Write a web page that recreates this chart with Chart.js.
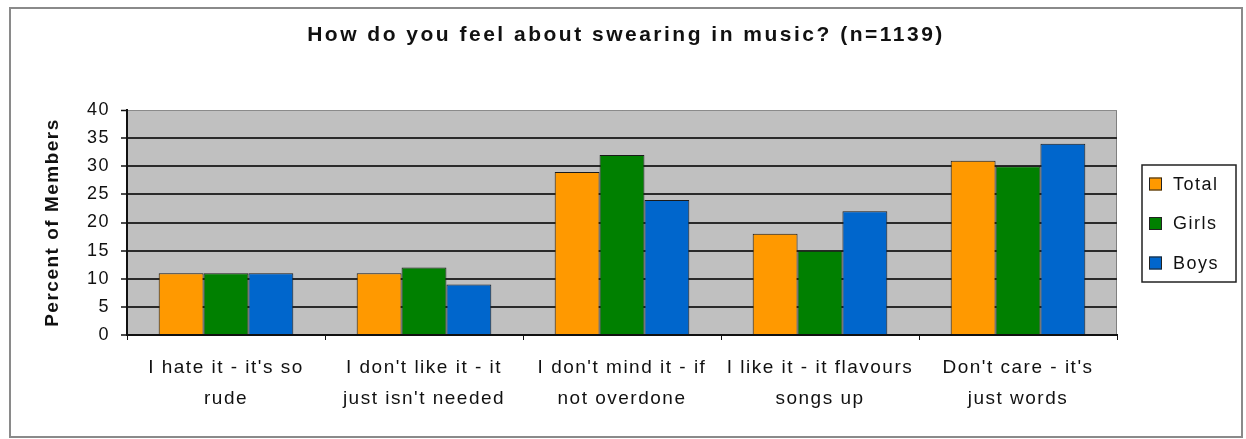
<!DOCTYPE html>
<html>
<head>
<meta charset="utf-8">
<script src="https://cdn.jsdelivr.net/npm/chart.js@4.4.0/dist/chart.umd.min.js"></script>
<style>
  html, body { margin: 0; padding: 0; background: #fff; }
  canvas { display: block; }
</style>
</head>
<body>
<canvas id="chart" width="1246" height="439"></canvas>
<script>
const chartTitle = 'How do you feel about swearing in music? (n=1139)';
const categories = [
    ["I hate it - it's so", "rude"],
    ["I don't like it - it", "just isn't needed"],
    ["I don't mind it - if", "not overdone"],
    ["I like it - it flavours", "songs up"],
    ["Don't care - it's", "just words"]
];
const seriesNames = ['Total', 'Girls', 'Boys'];
const totalValues = [11, 11, 29, 18, 31];
const girlsValues = [11, 12, 32, 15, 30];
const boysValues = [11, 9, 24, 22, 34];
const seriesColors = ['#FF9900', '#008000', '#0066CC'];

const FONT = "'Liberation Sans', Arial, sans-serif";

// frame, grey plot area, title and boxed legend
const decor = {
    id: 'decor',
    beforeUpdate(chart) {
        chart.ctx.letterSpacing = '1.5px';
    },
    beforeDraw(chart) {
        const ctx = chart.ctx;
        const a = chart.chartArea;
        ctx.save();
        ctx.fillStyle = '#fff';
        ctx.fillRect(0, 0, chart.width, chart.height);
        ctx.strokeStyle = '#8a8a8a';
        ctx.lineWidth = 2;
        ctx.strokeRect(10, 8, 1232, 429);
        ctx.fillStyle = '#C0C0C0';
        ctx.fillRect(a.left, a.top, a.right - a.left, a.bottom - a.top);
        ctx.strokeStyle = '#808080';
        ctx.lineWidth = 1;
        ctx.strokeRect(a.left, a.top + 0.5, a.right - a.left - 0.5, a.bottom - a.top);
        ctx.restore();
        ctx.letterSpacing = '1.5px';
    },
    afterDraw(chart) {
        const ctx = chart.ctx;
        ctx.save();
        ctx.letterSpacing = '2.5px';
        ctx.fillStyle = '#111';
        ctx.font = 'bold 21px ' + FONT;
        ctx.textAlign = 'center';
        ctx.textBaseline = 'middle';
        ctx.fillText(chartTitle, 626, 35);

        // legend
        ctx.strokeStyle = '#222';
        ctx.lineWidth = 1.5;
        ctx.strokeRect(1142, 165, 94, 117);
        ctx.letterSpacing = '1.5px';
        ctx.font = '18px ' + FONT;
        ctx.textAlign = 'left';
        chart.data.datasets.forEach((ds, i) => {
            const cy = 184 + i * 39.5;
            ctx.fillStyle = ds.backgroundColor;
            ctx.fillRect(1149, cy - 6.5, 13, 13);
            ctx.lineWidth = 1;
            ctx.strokeRect(1149.5, cy - 6, 12, 12);
            ctx.fillStyle = '#111';
            ctx.fillText(ds.label, 1173, cy + 1);
        });
        ctx.restore();
    }
};

const values = [totalValues, girlsValues, boysValues];

new Chart(document.getElementById('chart'), {
    type: 'bar',
    data: {
        labels: categories,
        datasets: seriesNames.map((name, i) => ({
            label: name,
            data: values[i],
            backgroundColor: seriesColors[i],
            borderColor: '#1a1a1a',
            borderWidth: 1,
            categoryPercentage: 0.68,
            barPercentage: 1
        }))
    },
    options: {
        responsive: false,
        animation: false,
        layout: { padding: { top: 110, right: 129, left: 0, bottom: 0 } },
        plugins: {
            legend: { display: false },
            title: { display: false },
            tooltip: { enabled: false }
        },
        scales: {
            x: {
                afterFit: s => { s.height = 104; },
                grid: {
                    drawOnChartArea: false,
                    drawTicks: true,
                    tickLength: 5,
                    color: '#111',
                    lineWidth: 1
                },
                border: { color: '#111', width: 2 },
                ticks: {
                    color: '#111',
                    padding: 12,
                    maxRotation: 0,
                    autoSkip: false,
                    font: { family: FONT, size: 19, lineHeight: 1.63 }
                }
            },
            y: {
                min: 0,
                max: 40,
                afterFit: s => { s.width = 127; },
                grid: {
                    color: ctx => ctx.tick && ctx.tick.value === 40 ? '#8a8a8a' : '#2a2a2a',
                    lineWidth: ctx => ctx.tick && ctx.tick.value === 40 ? 1 : 2,
                    tickLength: 6,
                    tickColor: '#111',
                    tickWidth: 1.5
                },
                border: { color: '#111', width: 2 },
                ticks: {
                    stepSize: 5,
                    color: '#111',
                    padding: 11,
                    font: { family: FONT, size: 18 }
                },
                title: {
                    display: true,
                    text: 'Percent of Members',
                    color: '#111',
                    padding: { top: 41 },
                    font: { family: FONT, size: 19, weight: 'bold' }
                }
            }
        }
    },
    plugins: [decor]
});
</script>
</body>
</html>
